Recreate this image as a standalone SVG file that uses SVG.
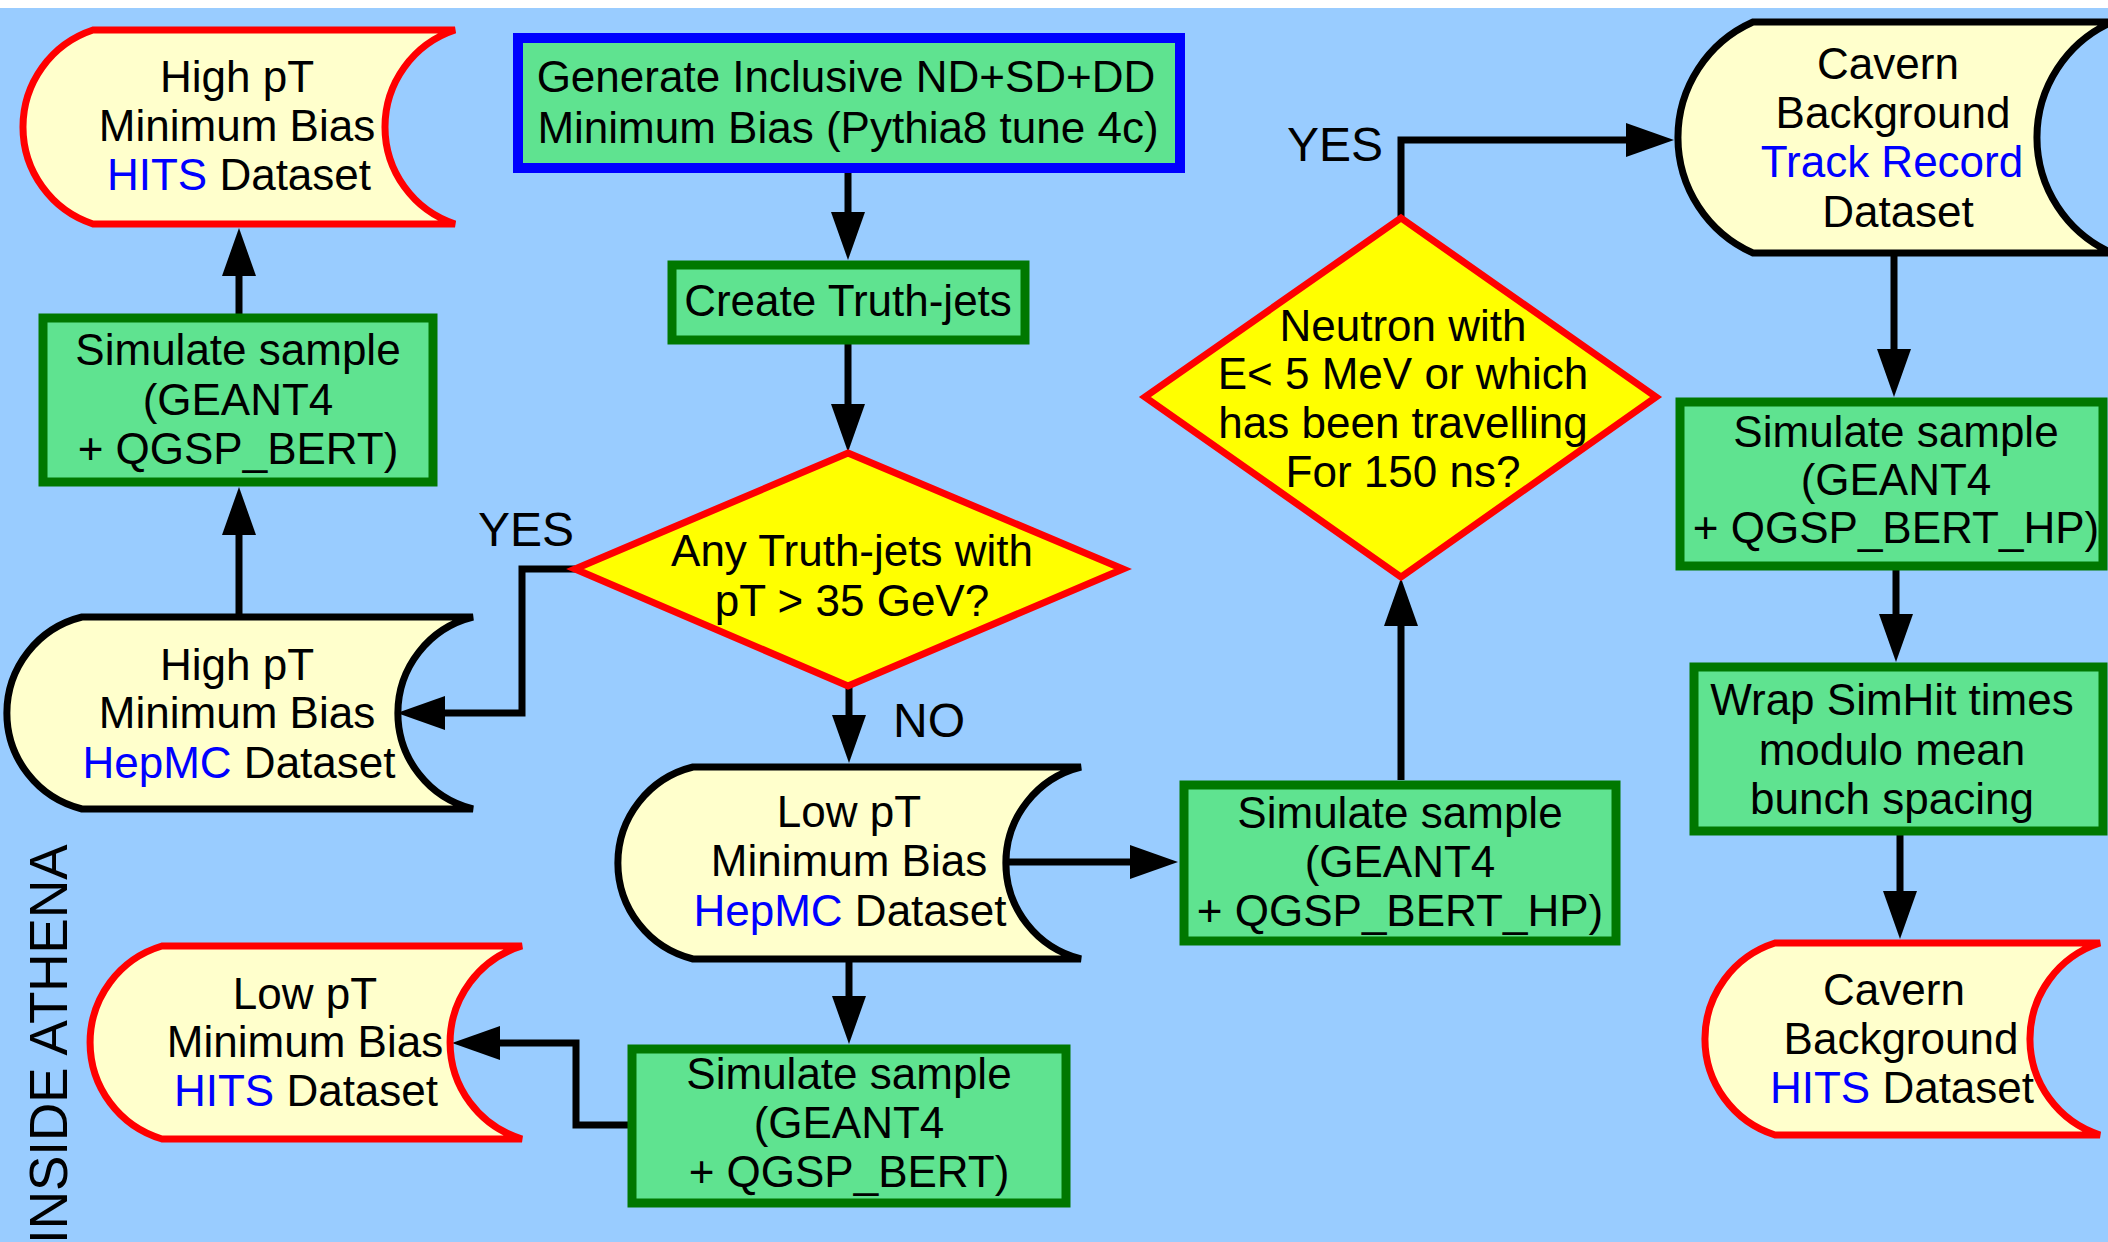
<svg xmlns="http://www.w3.org/2000/svg" width="2108" height="1242" viewBox="0 0 2108 1242">
<style>
.t{font-family:"Liberation Sans",Arial,sans-serif;font-size:44px;text-anchor:middle;fill:#000}
.lbl{font-family:"Liberation Sans",Arial,sans-serif;font-size:48px;text-anchor:middle;fill:#000}
.b{fill:#0000FF}
.proc{fill:#5FE390;stroke:#007800;stroke-width:9}
.start{fill:#5FE390;stroke:#0000FF;stroke-width:10}
.dec{fill:#FFFF00;stroke:#FF0000;stroke-width:7;stroke-linejoin:miter}
.dsr{fill:#FFFFCC;stroke:#FF0000;stroke-width:7}
.dsk{fill:#FFFFCC;stroke:#000;stroke-width:7}
.c{fill:none;stroke:#000;stroke-width:7;marker-end:url(#ah)}
</style>
<defs>
<marker id="ah" markerUnits="userSpaceOnUse" markerWidth="50" markerHeight="34" refX="1" refY="17" orient="auto" overflow="visible">
<path d="M0,0 L48,17 L0,34 Z" fill="#000"/>
</marker>
</defs>
<rect x="0" y="0" width="2108" height="1242" fill="#FFFFFF"/>
<rect x="0" y="8" width="2108" height="1234" fill="#99CCFF"/>

<g id="connectors">
<path class="c" d="M848,173 V213"/>
<path class="c" d="M848,344 V405"/>
<path class="c" d="M575,569 H522 V713 H444"/>
<path class="c" d="M239,614 V534"/>
<path class="c" d="M239,314 V275"/>
<path class="c" d="M849,686 V716"/>
<path class="c" d="M1006,862 H1131"/>
<path class="c" d="M849,962 V997"/>
<path class="c" d="M628,1125 H576 V1043 H499"/>
<path class="c" d="M1401,780 V625"/>
<path class="c" d="M1401,218 V140 H1627"/>
<path class="c" d="M1894,256 V350"/>
<path class="c" d="M1896,570 V615"/>
<path class="c" d="M1900,835 V892"/>
<text class="lbl" x="526" y="546">YES</text>
<text class="lbl" x="929" y="737">NO</text>
<text class="lbl" x="1335" y="161">YES</text>
</g>

<g id="highpt-hits">
<path class="dsr" d="M93,30 H455 A102.2,102.2 0 0 0 455,224 H93 A102.2,102.2 0 0 1 93,30 Z"/>
<text class="t" x="237" y="92">High pT</text>
<text class="t" x="237" y="141">Minimum Bias</text>
<text class="t" x="239" y="190"><tspan class="b">HITS</tspan> Dataset</text>
</g>

<g id="generate">
<rect class="start" x="518" y="38" width="662" height="130"/>
<text class="t" x="846" y="92">Generate Inclusive ND+SD+DD</text>
<text class="t" x="848" y="143">Minimum Bias (Pythia8 tune 4c)</text>
</g>

<g id="truthjets">
<rect class="proc" x="672" y="265" width="353" height="75"/>
<text class="t" x="848" y="316">Create Truth-jets</text>
</g>

<g id="decision-pt">
<polygon class="dec" points="848,453 1123,569 848,686 575,569"/>
<text class="t" x="852" y="566">Any Truth-jets with</text>
<text class="t" x="852" y="616">pT &gt; 35 GeV?</text>
</g>

<g id="sim-highpt">
<rect class="proc" x="43" y="318" width="390" height="164"/>
<text class="t" x="238" y="365">Simulate sample</text>
<text class="t" x="238" y="415">(GEANT4</text>
<text class="t" x="238" y="464">+ QGSP_BERT)</text>
</g>

<g id="highpt-hepmc">
<path class="dsk" d="M82,617 H473 A98.9,98.9 0 0 0 473,809 H82 A98.9,98.9 0 0 1 82,617 Z"/>
<text class="t" x="237" y="680">High pT</text>
<text class="t" x="237" y="728">Minimum Bias</text>
<text class="t" x="239" y="778"><tspan class="b">HepMC</tspan> Dataset</text>
</g>

<g id="lowpt-hepmc">
<path class="dsk" d="M693,767 H1081 A98.9,98.9 0 0 0 1081,959 H693 A98.9,98.9 0 0 1 693,767 Z"/>
<text class="t" x="849" y="827">Low pT</text>
<text class="t" x="849" y="876">Minimum Bias</text>
<text class="t" x="850" y="926"><tspan class="b">HepMC</tspan> Dataset</text>
</g>

<g id="sim-hp-mid">
<rect class="proc" x="1184" y="785" width="432" height="156"/>
<text class="t" x="1400" y="828">Simulate sample</text>
<text class="t" x="1400" y="877">(GEANT4</text>
<text class="t" x="1400" y="926">+ QGSP_BERT_HP)</text>
</g>

<g id="sim-lowpt">
<rect class="proc" x="632" y="1049" width="434" height="154"/>
<text class="t" x="849" y="1089">Simulate sample</text>
<text class="t" x="849" y="1138">(GEANT4</text>
<text class="t" x="849" y="1187">+ QGSP_BERT)</text>
</g>

<g id="lowpt-hits">
<path class="dsr" d="M162,946 H522 A100.7,100.7 0 0 0 522,1139 H162 A100.7,100.7 0 0 1 162,946 Z"/>
<text class="t" x="305" y="1009">Low pT</text>
<text class="t" x="305" y="1057">Minimum Bias</text>
<text class="t" x="306" y="1106"><tspan class="b">HITS</tspan> Dataset</text>
</g>

<g id="decision-neutron">
<polygon class="dec" points="1401,218 1656,397 1401,577 1145,397"/>
<text class="t" x="1403" y="341">Neutron with</text>
<text class="t" x="1403" y="389">E&lt; 5 MeV or which</text>
<text class="t" x="1403" y="438">has been travelling</text>
<text class="t" x="1403" y="487">For 150 ns?</text>
</g>

<g id="cavern-track-record">
<path class="dsk" d="M1753,22 H2112 A126.4,126.4 0 0 0 2112,253 H1753 A126.4,126.4 0 0 1 1753,22 Z"/>
<text class="t" x="1888" y="79">Cavern</text>
<text class="t" x="1893" y="128">Background</text>
<text class="t" x="1892" y="177"><tspan class="b">Track Record</tspan></text>
<text class="t" x="1898" y="227">Dataset</text>
</g>

<g id="sim-hp-right">
<rect class="proc" x="1680" y="402" width="423" height="164"/>
<text class="t" x="1896" y="447">Simulate sample</text>
<text class="t" x="1896" y="495">(GEANT4</text>
<text class="t" x="1896" y="543">+ QGSP_BERT_HP)</text>
</g>

<g id="wrap-simhit">
<rect class="proc" x="1694" y="667" width="409" height="164"/>
<text class="t" x="1892" y="715">Wrap SimHit times</text>
<text class="t" x="1892" y="765">modulo mean</text>
<text class="t" x="1892" y="814">bunch spacing</text>
</g>

<g id="cavern-hits">
<path class="dsr" d="M1775,943 H2100 A100.8,100.8 0 0 0 2100,1135 H1775 A100.8,100.8 0 0 1 1775,943 Z"/>
<text class="t" x="1894" y="1005">Cavern</text>
<text class="t" x="1901" y="1054">Background</text>
<text class="t" x="1902" y="1103"><tspan class="b">HITS</tspan> Dataset</text>
</g>

<g id="inside-athena">
<text x="0" y="0" transform="translate(67,1244) rotate(-90)" style="font-family:'Liberation Sans',Arial,sans-serif;font-size:53px;fill:#000">INSIDE ATHENA</text>
</g>
</svg>
